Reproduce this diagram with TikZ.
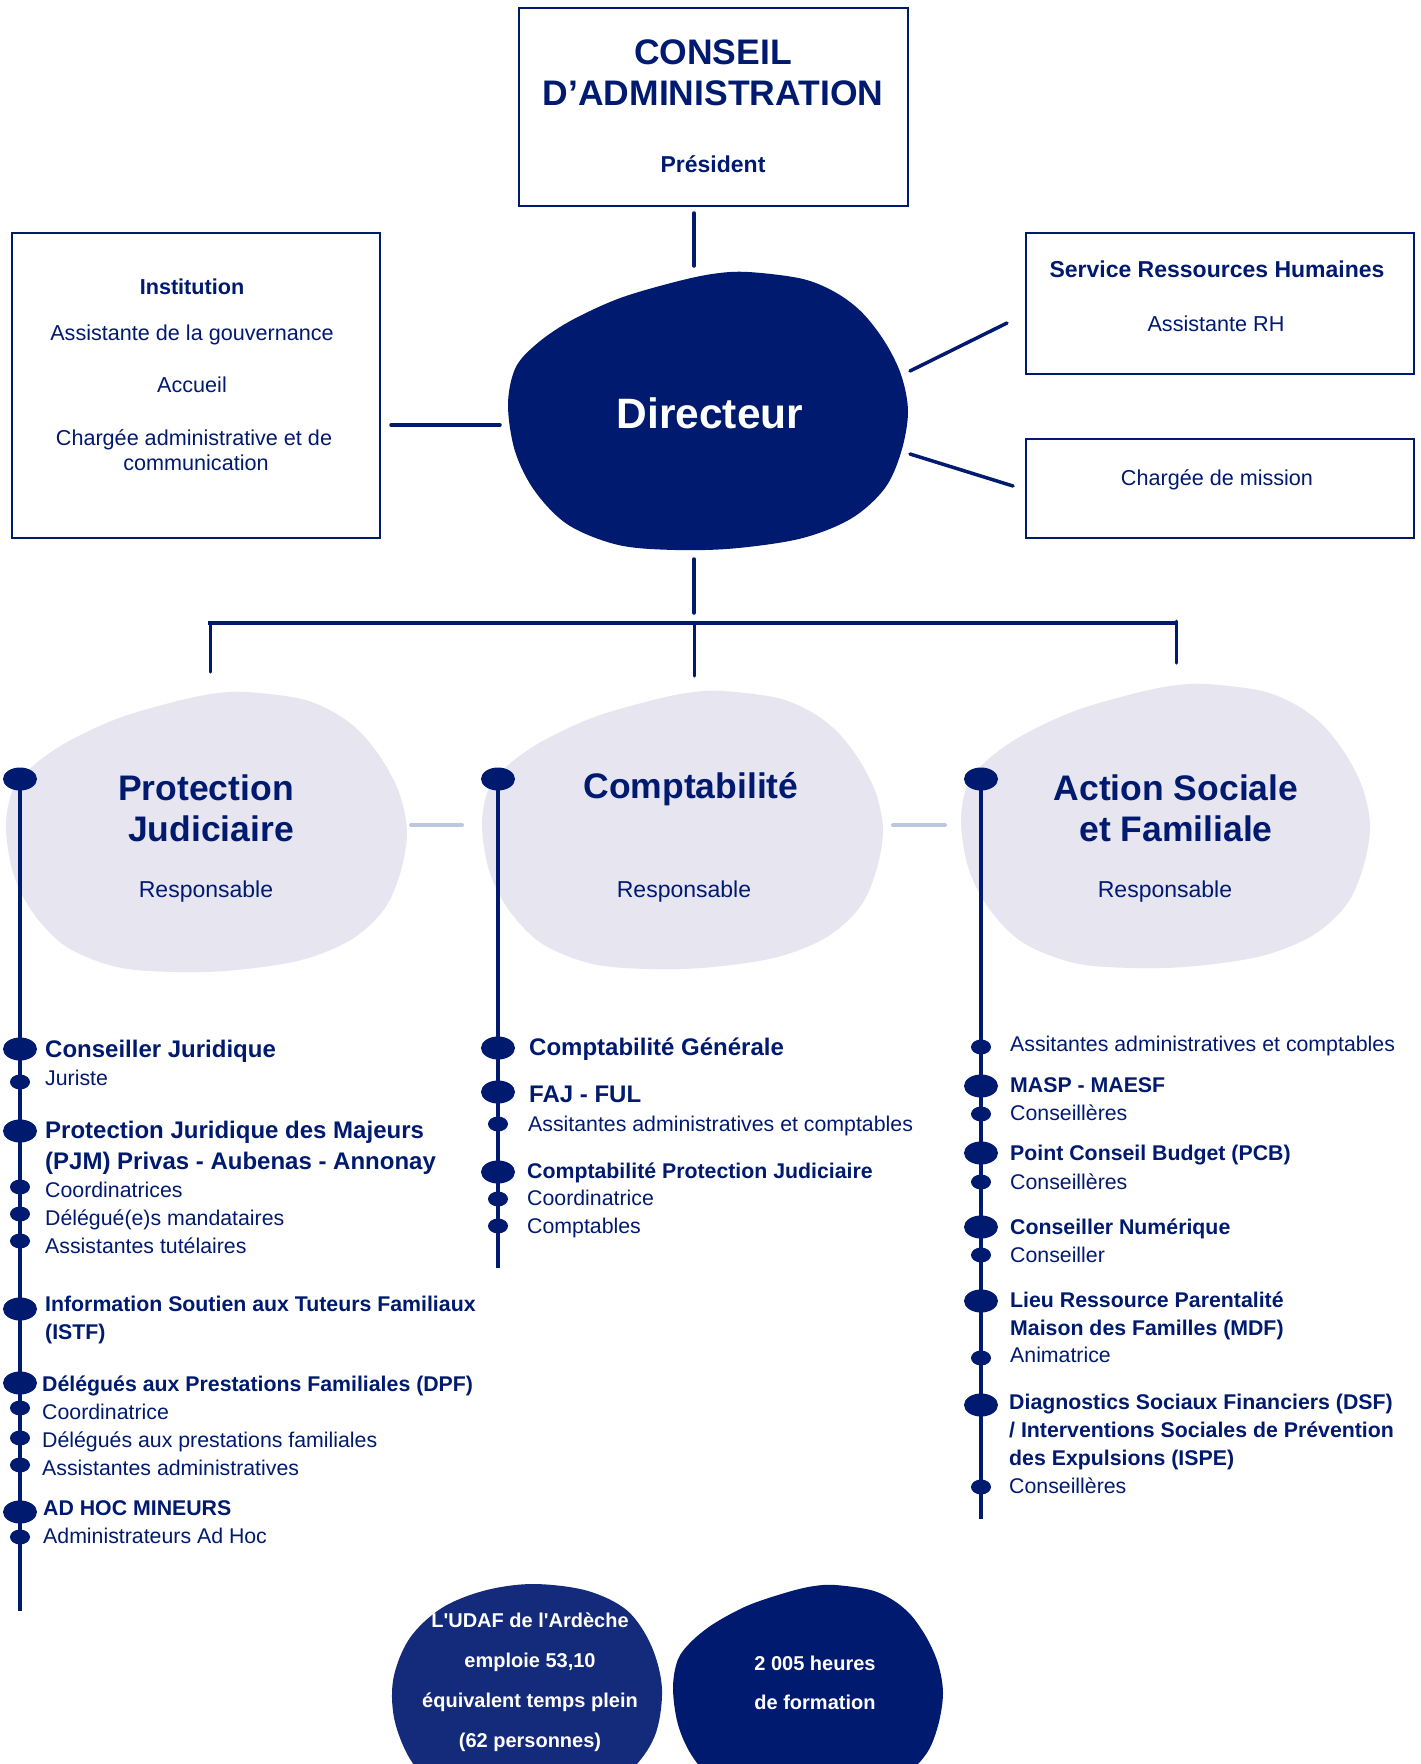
\documentclass[tikz,border=0pt]{standalone}
\usepackage{fontspec}
\setmainfont{Liberation Sans}[Ligatures=TeXOff]
\usetikzlibrary{shapes.geometric}
\definecolor{navy}{RGB}{0,26,112}
\definecolor{navytwo}{RGB}{20,42,122}
\definecolor{lav}{RGB}{230,229,240}
\definecolor{lightline}{RGB}{190,197,222}
\newcommand{\fs}[1]{\fontsize{#1}{#1}\selectfont}
\newcommand{\drawblob}[5]{%
  \begin{scope}[shift={(#1,#2)},xscale=#3,yscale=#4]
    \fill[#5] plot[smooth cycle, tension=0.55] coordinates {(0.601,0) (0.734,0.024) (0.817,0.072) (0.884,0.144) (0.942,0.251) (0.983,0.371) (1,0.503) (0.983,0.647) (0.942,0.778) (0.859,0.886) (0.734,0.958) (0.567,0.994) (0.418,1) (0.276,0.982) (0.151,0.910) (0.068,0.790) (0.018,0.647) (0,0.479) (0.018,0.347) (0.068,0.263) (0.151,0.180) (0.276,0.096) (0.417,0.036) (0.516,0.006)};
  \end{scope}}
\newcommand{\drawround}[5]{%
  \begin{scope}[shift={(#1,#2)},xscale=#3,yscale=#4]
    \fill[#5] plot[smooth cycle, tension=0.55] coordinates {(0.52,0) (0.72,0.03) (0.87,0.12) (0.96,0.28) (1,0.48) (0.97,0.70) (0.86,0.87) (0.66,0.97) (0.45,1) (0.25,0.96) (0.09,0.84) (0.01,0.64) (0,0.44) (0.06,0.25) (0.18,0.11) (0.34,0.03)};
  \end{scope}}
\tikzset{
  conn/.style={draw=navy, line width=3.5pt, line cap=round},
  lconn/.style={draw=lightline, line width=4pt, line cap=round},
  bar/.style={draw=navy, line width=4.5pt},
  boxst/.style={draw=navy, line width=2.5pt, rectangle, inner sep=0pt},
  tl/.style={draw=navy, line width=4pt},
  bigm/.style={ellipse, fill=navy, minimum width=34pt, minimum height=23pt, inner sep=0pt},
  smallm/.style={ellipse, fill=navy, minimum width=20pt, minimum height=15pt, inner sep=0pt},
  tt/.style={text=navy, inner sep=0pt, font=\fs{21.3}, text height=15pt, text depth=0pt},
  bb/.style={text=navy, inner sep=0pt, font=\fs{21.3}\bfseries, text height=15pt, text depth=0pt},
  bbig/.style={text=navy, inner sep=0pt, font=\fs{24}\bfseries, text height=17pt, text depth=0pt},
  ttl/.style={text=navy, inner sep=0pt, font=\fs{35.5}\bfseries, text height=25pt, text depth=0pt},
  resp/.style={text=navy, inner sep=0pt, font=\fs{23}, text height=16.5pt, text depth=0pt},
  boxt/.style={text=navy, inner sep=0pt, font=\fs{21.6}, text height=15.5pt, text depth=0pt},
  wt/.style={text=white, inner sep=0pt, font=\fs{20}\bfseries, text height=14.3pt, text depth=0pt},
}
\begin{document}
\begin{tikzpicture}[x=1pt,y=-1pt]
\useasboundingbox (0,0) rectangle (1421,1764);
\clip (0,0) rectangle (1421,1764);
\fill[white] (0,0) rectangle (1421,1764);

% ---------- blobs ----------
\drawblob{508}{272}{400}{278}{navy}
\drawblob{6}{692}{401}{280}{lav}
\drawblob{482}{691}{401}{278}{lav}
\drawblob{961}{684}{409}{284}{lav}
\drawround{393}{1584}{269}{220}{navytwo}
\drawblob{673}{1585}{270}{215}{navy}

% ---------- boxes ----------
\node[boxst, minimum width=389pt, minimum height=198pt] (ca) at (713.5,107) {};
\node[boxst, minimum width=368pt, minimum height=305pt] (inst) at (196,385.5) {};
\node[boxst, minimum width=388pt, minimum height=141pt] (rh) at (1220,303.5) {};
\node[boxst, minimum width=388pt, minimum height=99pt] (mis) at (1220,488.5) {};

% texts top
\node[ttl] (ca1) at (713,52) {CONSEIL};
\node[ttl] (ca2) at (713,93) {D’ADMINISTRATION};
\node[text=navy, inner sep=0pt, font=\fs{23}\bfseries, text height=16.5pt, text depth=0pt] (ca3) at (713,164) {Président};

\node[text=navy, inner sep=0pt, font=\fs{21.6}\bfseries, text height=15.5pt, text depth=0pt] (in1) at (192,287) {Institution};
\node[boxt] (in2) at (192,333) {Assistante de la gouvernance};
\node[boxt] (in3) at (192,385) {Accueil};
\node[boxt] (in4) at (194,438) {Chargée administrative et de};
\node[boxt] (in5) at (196,463) {communication};

\node[text=navy, inner sep=0pt, font=\fs{23}\bfseries, text height=16.5pt, text depth=0pt] (rh1) at (1217,269) {Service Ressources Humaines};
\node[boxt] (rh2) at (1216,324) {Assistante RH};
\node[boxt] (mi1) at (1217,478) {Chargée de mission};

\node[text=white, inner sep=0pt, font=\fs{42.5}\bfseries, text height=30.5pt, text depth=0pt] (dir) at (710,413) {Directeur};

% ---------- connectors ----------
\coordinate (c1a) at (694,213); \coordinate (c1b) at (694,266);
\draw[conn] (c1a) -- (c1b);
\coordinate (c2a) at (391,425); \coordinate (c2b) at (500,425);
\draw[conn] (c2a) -- (c2b);
\coordinate (c3a) at (910,371); \coordinate (c3b) at (1007,323);
\draw[conn] (c3a) -- (c3b);
\coordinate (c4a) at (910,454); \coordinate (c4b) at (1013,486);
\draw[conn] (c4a) -- (c4b);
\coordinate (c5a) at (694,559); \coordinate (c5b) at (694,613);
\draw[conn] (c5a) -- (c5b);
\coordinate (hL) at (208,623); \coordinate (hR) at (1176,623);
\draw[bar] (hL) -- (hR);
\coordinate (d1a) at (210,623); \coordinate (d1b) at (210,672);
\coordinate (d2a) at (694,623); \coordinate (d2b) at (694,676);
\coordinate (d3a) at (1176,621); \coordinate (d3b) at (1176,663);
\draw[conn, line width=3pt] (d1a) -- (d1b);
\draw[conn, line width=3pt] (d2a) -- (d2b);
\draw[conn, line width=3pt] (d3a) -- (d3b);
\coordinate (l1a) at (411,825); \coordinate (l1b) at (462,825);
\coordinate (l2a) at (893,825); \coordinate (l2b) at (945,825);
\draw[lconn] (l1a) -- (l1b);
\draw[lconn] (l2a) -- (l2b);

% ---------- department titles ----------
\node[ttl] (pj1) at (206,788) {Protection};
\node[ttl] (pj2) at (211,829) {Judiciaire};
\node[resp] (pj3) at (206,889) {Responsable};
\node[ttl] (co1) at (691,786) {Comptabilité};
\node[resp] (co2) at (684,889) {Responsable};
\node[ttl] (as1) at (1176,788) {Action Sociale};
\node[ttl] (as2) at (1176,829) {et Familiale};
\node[resp] (as3) at (1165,889) {Responsable};

% ---------- left timeline ----------
\coordinate (eL) at (20,1611);
\node[bigm] (pL0) at (20,779) {};
\draw[tl] (pL0.center) -- (eL);
\node[bigm] (pL1) at (20,1049) {};
\node[smallm] (pL2) at (20,1082) {};
\node[bigm] (pL3) at (20,1131) {};
\node[smallm] (pL4) at (20,1187) {};
\node[smallm] (pL5) at (20,1214) {};
\node[smallm] (pL6) at (20,1241) {};
\node[bigm] (pL7) at (20,1309) {};
\node[bigm] (pL8) at (20,1383) {};
\node[smallm] (pL9) at (20,1408) {};
\node[smallm] (pL10) at (20,1438) {};
\node[smallm] (pL11) at (20,1465) {};
\node[bigm] (pL12) at (20,1512) {};
\node[smallm] (pL13) at (20,1537) {};

\node[bbig, anchor=west] (tL1) at (45,1049) {Conseiller Juridique};
\node[tt, anchor=west] (tL2) at (45,1078) {Juriste};
\node[bbig, anchor=west] (tL3) at (45,1130) {Protection Juridique des Majeurs};
\node[bbig, anchor=west] (tL4) at (45,1161) {(PJM) Privas - Aubenas - Annonay};
\node[tt, anchor=west] (tL5) at (45,1190) {Coordinatrices};
\node[tt, anchor=west] (tL6) at (45,1218) {Délégué(e)s mandataires};
\node[tt, anchor=west] (tL7) at (45,1246) {Assistantes tutélaires};
\node[bb, anchor=west] (tL8) at (45,1304) {Information Soutien aux Tuteurs Familiaux};
\node[bb, anchor=west] (tL9) at (45,1332) {(ISTF)};
\node[bb, anchor=west] (tL10) at (42,1384) {Délégués aux Prestations Familiales (DPF)};
\node[tt, anchor=west] (tL11) at (42,1412) {Coordinatrice};
\node[tt, anchor=west] (tL12) at (42,1440) {Délégués aux prestations familiales};
\node[tt, anchor=west] (tL13) at (42,1468) {Assistantes administratives};
\node[bb, anchor=west] (tL14) at (43,1508) {AD HOC MINEURS};
\node[tt, anchor=west] (tL15) at (43,1536) {Administrateurs Ad Hoc};

% ---------- middle timeline ----------
\coordinate (eM) at (498,1268);
\node[bigm] (pM0) at (498,779) {};
\draw[tl] (pM0.center) -- (eM);
\node[bigm] (pM1) at (498,1048) {};
\node[bigm] (pM2) at (498,1092) {};
\node[smallm] (pM3) at (498,1124) {};
\node[bigm] (pM4) at (498,1172) {};
\node[smallm] (pM5) at (498,1199) {};
\node[smallm] (pM6) at (498,1226) {};

\node[bbig, anchor=west] (tM1) at (529,1047) {Comptabilité Générale};
\node[bbig, anchor=west] (tM2) at (529,1094) {FAJ - FUL};
\node[tt, anchor=west] (tM3) at (528,1124) {Assitantes administratives et comptables};
\node[bb, anchor=west] (tM4) at (527,1171) {Comptabilité Protection Judiciaire};
\node[tt, anchor=west] (tM5) at (527,1198) {Coordinatrice};
\node[tt, anchor=west] (tM6) at (527,1226) {Comptables};

% ---------- right timeline ----------
\coordinate (eR) at (981,1519);
\node[bigm] (pR0) at (981,779) {};
\draw[tl] (pR0.center) -- (eR);
\node[smallm] (pR1) at (981,1047) {};
\node[bigm] (pR2) at (981,1086) {};
\node[smallm] (pR3) at (981,1114) {};
\node[bigm] (pR4) at (981,1153) {};
\node[smallm] (pR5) at (981,1182) {};
\node[bigm] (pR6) at (981,1227) {};
\node[smallm] (pR7) at (981,1255) {};
\node[bigm] (pR8) at (981,1301) {};
\node[smallm] (pR9) at (981,1358) {};
\node[bigm] (pR10) at (981,1405) {};
\node[smallm] (pR11) at (981,1487) {};

\node[tt, anchor=west] (tR1) at (1010,1044) {Assitantes administratives et comptables};
\node[bb, anchor=west] (tR2) at (1010,1085) {MASP - MAESF};
\node[tt, anchor=west] (tR3) at (1010,1113) {Conseillères};
\node[bb, anchor=west] (tR4) at (1010,1153) {Point Conseil Budget (PCB)};
\node[tt, anchor=west] (tR5) at (1010,1182) {Conseillères};
\node[bb, anchor=west] (tR6) at (1010,1227) {Conseiller Numérique};
\node[tt, anchor=west] (tR7) at (1010,1255) {Conseiller};
\node[bb, anchor=west] (tR8) at (1010,1300) {Lieu Ressource Parentalité};
\node[bb, anchor=west] (tR9) at (1010,1328) {Maison des Familles (MDF)};
\node[tt, anchor=west] (tR10) at (1010,1355) {Animatrice};
\node[bb, anchor=west] (tR11) at (1009,1402) {Diagnostics Sociaux Financiers (DSF)};
\node[bb, anchor=west] (tR12) at (1009,1430) {/ Interventions Sociales de Prévention};
\node[bb, anchor=west] (tR13) at (1009,1458) {des Expulsions (ISPE)};
\node[tt, anchor=west] (tR14) at (1009,1486) {Conseillères};

% ---------- bottom blobs text ----------
\node[wt] (u1) at (530,1620) {L'UDAF de l'Ardèche};
\node[wt] (u2) at (530,1660) {emploie 53,10};
\node[wt] (u3) at (530,1700) {équivalent temps plein};
\node[wt] (u4) at (530,1740) {(62 personnes)};
\node[wt] (f1) at (815,1663) {2 005 heures};
\node[wt] (f2) at (815,1702) {de formation};
\end{tikzpicture}
\end{document}
